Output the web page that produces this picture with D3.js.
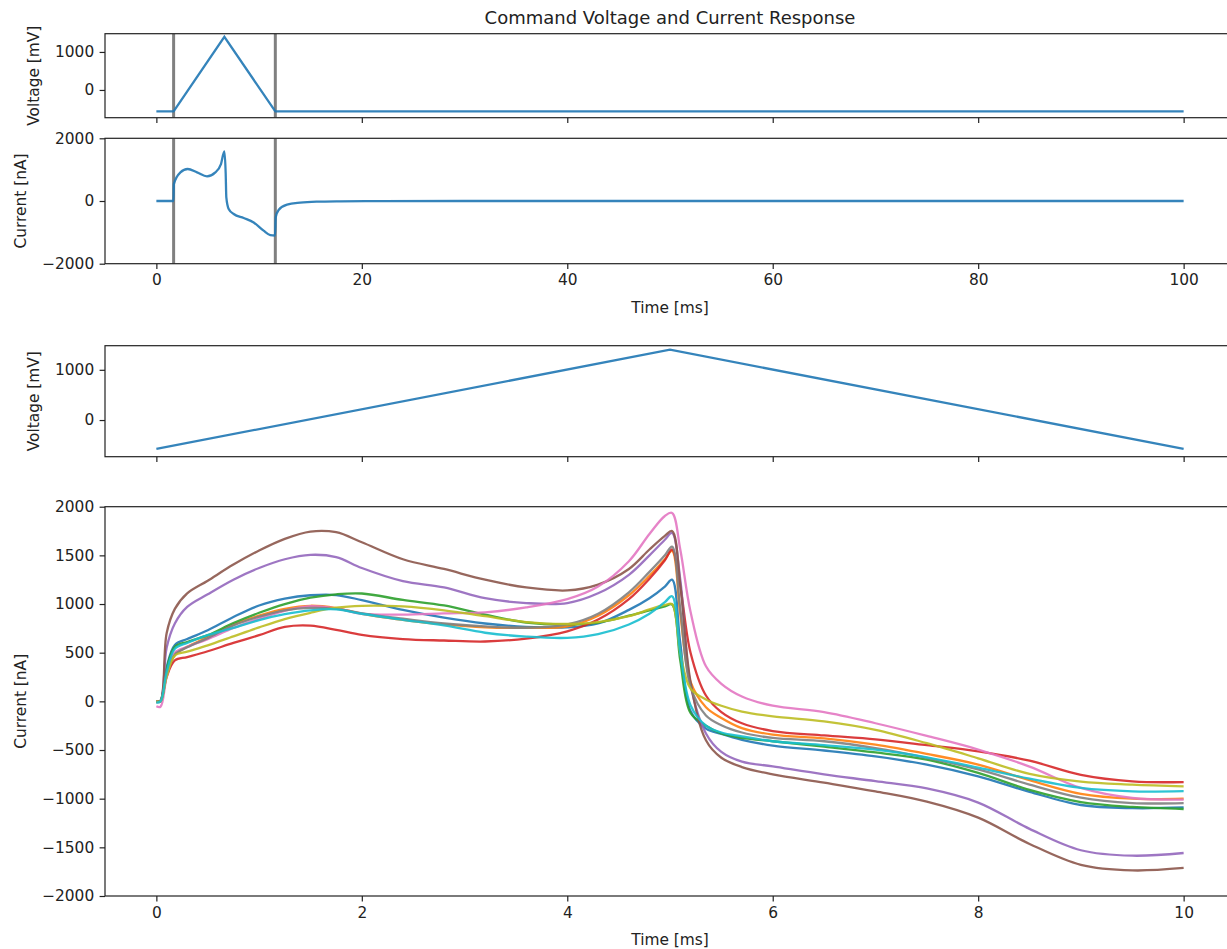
<!DOCTYPE html>
<html lang="en">
<head>
	<meta charset="utf-8">
	<title>Command Voltage and Current Response</title>
	<script src="https://cdn.jsdelivr.net/npm/d3@7/dist/d3.min.js"></script>
	<style type="text/css">
		body { margin: 0; background: #fff; }
		.axis path,
		.axis line {
		    fill: none;
		    stroke: #222;
		    stroke-width: 1.2px;
		}
		.axis text {
		    font-family: "DejaVu Sans", sans-serif;
		    font-size: 15.4px;
		    fill: #222;
		}
		.label {
		    font-family: "DejaVu Sans", sans-serif;
		    font-size: 15.4px;
		    fill: #222;
		}
	</style>
</head>
<body>
<script type="text/javascript">

// ---- full protocol (top two panels), time in ms ----
var protoTime   = [0, 1.68, 6.62, 11.58, 100];
var protoVolt   = [-565, -565, 1400, -565, -565];
var markerTimes = [1.68, 11.58];

var respTime = [0, 1.66, 1.70, 2.34, 3.05, 3.96, 4.93, 5.74, 6.29, 6.62, 6.75, 6.81, 7.04, 7.53,
                8.50, 9.47, 10.44, 11.09, 11.55, 11.62, 11.9, 12.72, 14.0, 15.6, 17.9, 22, 30, 50, 100];
var respCurr = [0, 0, 540, 912, 1020, 912, 785, 912, 1180, 1582, 861, 115, -255, -415,
                -542, -683, -947, -1085, -1100, -523, -287, -118, -54, -22, -10, -3, 0, 0, 0];

// ---- single ramp (bottom two panels) ----
var rampTime = [0, 5, 10];
var rampVolt = [-575, 1400, -575];

var sweepTime = [0, 0.04, 0.1, 0.18, 0.3, 0.5, 0.75, 1.0, 1.25, 1.5, 1.75, 2.0, 2.4, 2.8, 3.2, 3.6,
                 4.0, 4.3, 4.6, 4.8, 4.95, 5.02, 5.1, 5.2, 5.35, 5.5, 5.7, 6.0, 6.5, 7.0, 7.5, 8.0,
                 8.5, 9.0, 9.5, 10.0];

var sweepBlue   = [-10, 0, 350, 580, 640, 730, 867, 985, 1055, 1090, 1092, 1040, 940, 860, 800, 765,
                   760, 800, 940, 1060, 1180, 1250, 600, -100, -280, -335, -395, -455, -505, -565, -650, -770,
                   -930, -1065, -1097, -1090];
var sweepOrange = [0, 0, 280, 480, 560, 660, 788, 880, 950, 982, 958, 900, 838, 790, 760, 755,
                   770, 880, 1090, 1290, 1460, 1545, 900, 200, -60, -170, -275, -342, -380, -445, -540, -650,
                   -810, -950, -1000, -1000];
var sweepGreen  = [0, 5, 330, 560, 610, 680, 805, 910, 1000, 1065, 1100, 1108, 1042, 985, 890, 810,
                   790, 810, 880, 935, 975, 995, 420, -120, -250, -330, -375, -410, -465, -525, -600, -735,
                   -910, -1035, -1085, -1106];
var sweepRed    = [0, 0, 250, 420, 455, 515, 600, 680, 765, 778, 735, 682, 640, 625, 615, 645,
                   720, 840, 1050, 1260, 1450, 1560, 1180, 500, 60, -110, -225, -305, -350, -390, -450, -515,
                   -610, -755, -822, -829];
var sweepPurple = [0, 5, 550, 800, 970, 1100, 1250, 1370, 1460, 1505, 1482, 1370, 1235, 1170, 1060, 1010,
                   1010, 1110, 1300, 1500, 1660, 1730, 1250, 170, -330, -520, -620, -668, -750, -820, -895, -1040,
                   -1310, -1530, -1586, -1558];
var sweepBrown  = [0, 5, 700, 950, 1110, 1240, 1405, 1550, 1670, 1745, 1738, 1635, 1460, 1360, 1250, 1170,
                   1140, 1200, 1360, 1560, 1700, 1750, 1200, 200, -400, -580, -675, -750, -835, -925, -1030, -1195,
                   -1465, -1680, -1737, -1712];
var sweepPink   = [-50, -55, 250, 500, 560, 640, 754, 850, 930, 978, 955, 900, 891, 903, 915, 965,
                   1050, 1180, 1440, 1720, 1905, 1936, 1560, 920, 360, 180, 50, -45, -110, -225, -355, -495,
                   -670, -890, -993, -1010];
var sweepGray   = [0, 0, 270, 480, 555, 650, 780, 870, 935, 960, 950, 905, 850, 800, 770, 755,
                   790, 900, 1120, 1330, 1500, 1590, 950, 150, -145, -245, -320, -376, -410, -480, -580, -700,
                   -855, -990, -1045, -1045];
var sweepOlive  = [0, 0, 260, 470, 510, 575, 668, 760, 845, 910, 962, 982, 975, 935, 875, 815,
                   795, 815, 875, 945, 990, 1000, 500, 130, 20, -45, -105, -154, -205, -292, -430, -585,
                   -745, -825, -855, -873];
var sweepCyan   = [-10, 0, 300, 540, 600, 680, 754, 835, 895, 935, 945, 900, 838, 780, 705, 665,
                   652, 690, 790, 900, 1020, 1080, 500, -40, -250, -320, -360, -410, -450, -497, -575, -680,
                   -795, -890, -925, -922];

var sweeps = [sweepBlue, sweepOrange, sweepGreen, sweepRed, sweepPurple,
              sweepBrown, sweepPink, sweepGray, sweepOlive, sweepCyan];
var colors = ["#1f77b4", "#ff7f0e", "#2ca02c", "#d62728", "#9467bd",
              "#8c564b", "#e377c2", "#7f7f7f", "#bcbd22", "#17becf"];

var protoTicks = [0, 20, 40, 60, 80, 100];
var rampTicks  = [0, 2, 4, 6, 8, 10];
var voltTicks  = [0, 1000];
var currTicksTop = [-2000, 0, 2000];
var currTicksBottom = [-2000, -1500, -1000, -500, 0, 500, 1000, 1500, 2000];

// ---- layout ----
var width = 1227, height = 949;
var left = 105, right = 1235;

var svg = d3.select("body")
	.append("svg")
	.attr("width", width)
	.attr("height", height);

var xProto = d3.scaleLinear().domain([-5, 105]).range([left, right]);
var xRamp  = d3.scaleLinear().domain([-0.5, 10.5]).range([left, right]);

var y1 = d3.scaleLinear().domain([-730, 1480]).range([117.7, 33.7]);
var y2 = d3.scaleLinear().domain([-2000, 2000]).range([263.7, 138.3]);
var y3 = d3.scaleLinear().domain([-730, 1480]).range([456.7, 345.7]);
var y4 = d3.scaleLinear().domain([-2000, 2000]).range([896, 506.7]);

function panel(x, y, xticks, yticks, showXLabels, yLabel, yLabelX){
	var top = y.range()[1], bottom = y.range()[0];
	var g = svg.append("g");

	var clipId = "clip" + Math.round(top);
	g.append("clipPath").attr("id", clipId)
		.append("rect")
		.attr("x", left).attr("y", top)
		.attr("width", right - left).attr("height", bottom - top);

	var plot = g.append("g").attr("clip-path", "url(#" + clipId + ")");

	// x axis
	var xAxis = d3.axisBottom(x).tickValues(xticks).tickSize(5.4).tickPadding(5.4)
		.tickFormat(showXLabels ? d3.format("d") : "");
	g.append("g").attr("class", "axis")
		.attr("transform", "translate(0," + bottom + ")")
		.call(xAxis)
		.call(function(s){ s.select(".domain").remove(); });

	var yAxis = d3.axisLeft(y).tickValues(yticks).tickSize(5.4).tickPadding(5.4)
		.tickFormat(d3.format("d"));
	g.append("g").attr("class", "axis")
		.attr("transform", "translate(" + left + ",0)")
		.call(yAxis)
		.call(function(s){ s.select(".domain").remove(); });

	// frame
	g.append("rect")
		.attr("x", left).attr("y", top)
		.attr("width", right - left).attr("height", bottom - top)
		.attr("fill", "none")
		.attr("stroke", "#222")
		.attr("stroke-width", 1.2);

	g.append("text")
		.attr("class", "label")
		.attr("transform", "translate(" + yLabelX + "," + ((top + bottom) / 2) + ") rotate(-90)")
		.attr("text-anchor", "middle")
		.text(yLabel);

	return plot;
}

var p1 = panel(xProto, y1, protoTicks, voltTicks, false, "Voltage [mV]", 39);
var p2 = panel(xProto, y2, protoTicks, currTicksTop, true, "Current [nA]", 25.5);
var p3 = panel(xRamp, y3, rampTicks, voltTicks, false, "Voltage [mV]", 39);
var p4 = panel(xRamp, y4, rampTicks, currTicksBottom, true, "Current [nA]", 25.5);

// x labels + title
svg.append("text").attr("class", "label")
	.attr("x", (left + right) / 2).attr("y", 313)
	.attr("text-anchor", "middle")
	.text("Time [ms]");
svg.append("text").attr("class", "label")
	.attr("x", (left + right) / 2).attr("y", 945)
	.attr("text-anchor", "middle")
	.text("Time [ms]");
svg.append("text").attr("class", "label")
	.attr("x", (left + right) / 2).attr("y", 23.5)
	.attr("text-anchor", "middle")
	.style("font-size", "18px")
	.text("Command Voltage and Current Response");

// ---- top panels ----
function lineOf(x, y, times, values, curve){
	return d3.line()
		.x(function(d, i){ return x(times[i]); })
		.y(function(d){ return y(d); })
		.curve(curve || d3.curveLinear)(values);
}

[[p1, y1], [p2, y2]].forEach(function(p){
	p[0].selectAll("line.marker")
		.data(markerTimes)
		.enter()
		.append("line")
		.attr("class", "marker")
		.attr("x1", function(d){ return xProto(d); })
		.attr("x2", function(d){ return xProto(d); })
		.attr("y1", p[1].range()[0])
		.attr("y2", p[1].range()[1])
		.attr("stroke", "#808080")
		.attr("stroke-width", 3);
});

p1.append("path")
	.attr("d", lineOf(xProto, y1, protoTime, protoVolt))
	.attr("fill", "none")
	.attr("stroke", colors[0])
	.attr("stroke-opacity", 0.9)
	.attr("stroke-width", 2.3);

p2.append("path")
	.attr("d", lineOf(xProto, y2, respTime, respCurr, d3.curveMonotoneX))
	.attr("fill", "none")
	.attr("stroke", colors[0])
	.attr("stroke-opacity", 0.9)
	.attr("stroke-width", 2.3);

// ---- bottom panels ----
p3.append("path")
	.attr("d", lineOf(xRamp, y3, rampTime, rampVolt))
	.attr("fill", "none")
	.attr("stroke", colors[0])
	.attr("stroke-opacity", 0.9)
	.attr("stroke-width", 2.3);

p4.selectAll("path.sweep")
	.data(sweeps)
	.enter()
	.append("path")
	.attr("class", "sweep")
	.attr("d", function(d){ return lineOf(xRamp, y4, sweepTime, d, d3.curveCatmullRom.alpha(0.5)); })
	.attr("fill", "none")
	.attr("stroke", function(d, i){ return colors[i]; })
	.attr("stroke-opacity", 0.9)
	.attr("stroke-width", 2.3);

</script>
</body>
</html>
